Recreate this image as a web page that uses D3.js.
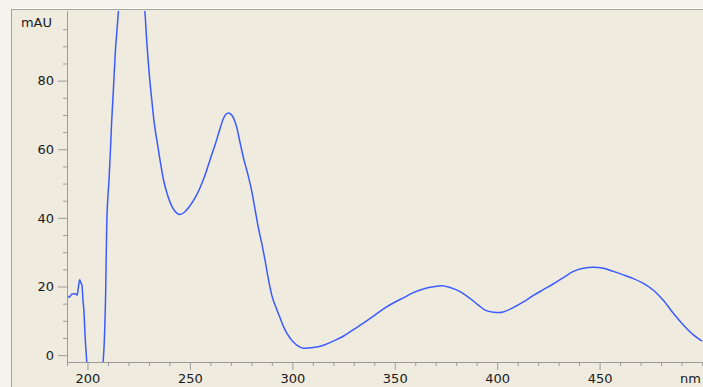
<!DOCTYPE html>
<html>
<head>
<meta charset="utf-8">
<script src="https://cdn.jsdelivr.net/npm/d3@7/dist/d3.min.js"></script>
<style>
  html, body { margin: 0; padding: 0; background: #f5f3ec; overflow: hidden; }
  svg { display: block; }
  text { font-family: "DejaVu Sans", Verdana, sans-serif; font-size: 13px; fill: #1a1a1a; }
</style>
</head>
<body>
<svg id="chart" width="703" height="387"></svg>
<script>
// UV-Vis absorbance spectrum (wavelength in nm, absorbance in mAU)
const wavelength = [
  190, 191, 192.5, 194, 195, 195.5, 196.2, 196.8, 197.3, 197.8, 198.3, 198.8, 199.3, 199.8, 200.3,
  202, 205, 207.5, 208.2, 208.9, 209.4, 210.5, 211.1, 211.8, 212.6, 213.6, 214.6, 215.2, 217,
  221, 225, 227.5, 228.1, 228.9, 230.2, 231.4, 232.6, 234.1, 235.4, 237, 239, 240.3, 241.9,
  243.6, 245.2, 247.6, 250.1, 252.5, 254.9, 257.4, 259.8, 262.3, 264.7, 266.3, 268.8, 270.4,
  272.9, 274.5, 276.4, 278.5, 280.2, 281.8, 283.4, 285.1, 286.7, 288.3, 290, 292.4, 294,
  295.5, 297.3, 299, 300.5, 302.5, 305.4, 310.3, 315.2, 320, 324.9, 329.8, 334.7, 339.6,
  344.5, 349.3, 354.2, 359.1, 364, 368.9, 373, 377, 381.9, 386.8, 390.8, 394.1, 398.2,
  401.4, 403.1, 408, 412.8, 417.7, 422.6, 427.5, 432.3, 437.2, 442.1, 447, 451.9, 456.7,
  461.6, 466.5, 471.4, 476.3, 481.1, 486, 490.9, 495.8, 500
];
const absorbance = [
  17.5, 16.9, 17.8, 17.9, 17.5, 19.5, 22.0, 21.0, 20.4, 16.0, 12.6, 6.0, 1.0, -3, -8,
  -15, -15, -3, 3.9, 19.0, 37.9, 51.0, 58.3, 68.0, 76.8, 88.4, 96.2, 101, 112,
  120, 112, 103, 99.5, 91.8, 81.6, 74.3, 67.6, 61.8, 56.9, 51.4, 46.8, 44.6, 42.6,
  41.4, 41.0, 41.8, 43.6, 45.8, 48.7, 52.5, 56.9, 61.3, 66.0, 68.9, 70.6, 70.0,
  66.3, 61.9, 56.9, 52.2, 47.8, 42.5, 37.2, 32.5, 27.6, 22.2, 17.4, 13.3, 10.9,
  8.6, 6.4, 4.9, 3.8, 2.8, 2.0, 2.2, 2.9, 4.1, 5.5, 7.4, 9.3, 11.4,
  13.5, 15.2, 16.7, 18.2, 19.3, 19.9, 20.2, 19.7, 18.5, 16.5, 14.6, 13.1, 12.5,
  12.4, 12.6, 13.9, 15.5, 17.4, 19.1, 20.8, 22.6, 24.4, 25.3, 25.6, 25.3, 24.4,
  23.4, 22.3, 20.9, 18.9, 16.0, 12.2, 8.8, 5.9, 4.1
];

const xMajorTicks = [200, 250, 300, 350, 400, 450];
const xMinorTicks = d3.range(190, 501, 10);
const yMajorTicks = [0, 20, 40, 60, 80];
const yMinorTicks = d3.range(0, 100, 5);
const xUnit = "nm";
const yUnit = "mAU";

const svg = d3.select("#chart");
const W = 703, H = 387;
const plotLeft = 67, plotRight = 702, plotTop = 12, plotBottom = 362;

const x = d3.scaleLinear().domain([190, 500]).range([plotLeft, plotRight]);
const y = d3.scaleLinear().domain([-2, 100]).range([plotBottom, plotTop]);

// Panel frame (continues past the right and bottom edges)
svg.append("rect").attr("x", 11).attr("y", 9).attr("width", W + 20).attr("height", H + 20)
  .attr("fill", "#efebdf");
svg.append("line").attr("x1", 11).attr("x2", W + 20).attr("y1", 9.5).attr("y2", 9.5)
  .attr("stroke", "#a3a29b");
svg.append("line").attr("x1", 11.5).attr("x2", 11.5).attr("y1", 9).attr("y2", H + 20)
  .attr("stroke", "#a3a29b");
svg.append("line").attr("x1", 12).attr("x2", W + 20).attr("y1", 8.5).attr("y2", 8.5)
  .attr("stroke", "#ffffff").attr("stroke-opacity", 0.7);

const axisColor = "#9c9c9c";

// Y axis: minor ticks every 5 mAU, labelled major ticks every 20
const yMinorG = svg.append("g").attr("transform", `translate(${plotLeft},0)`)
  .call(d3.axisLeft(y).tickValues(yMinorTicks.filter(v => !yMajorTicks.includes(v))).tickSize(4).tickFormat(""));
const yMajorG = svg.append("g").attr("transform", `translate(${plotLeft},0)`)
  .call(d3.axisLeft(y).tickValues(yMajorTicks).tickSize(9).tickPadding(4));
[yMinorG, yMajorG].forEach(g => {
  g.selectAll(".domain").remove();
  g.selectAll(".tick line").attr("stroke", axisColor);
  g.selectAll(".tick text").attr("font-family", "DejaVu Sans").attr("font-size", 13).attr("fill", "#1a1a1a");
});
svg.append("line").attr("x1", plotLeft + 0.5).attr("x2", plotLeft + 0.5).attr("y1", plotTop - 1).attr("y2", plotBottom)
  .attr("stroke", axisColor);

// X axis: minor ticks every 10 nm, labelled major ticks every 50
const xMinorG = svg.append("g").attr("transform", `translate(0,${plotBottom})`)
  .call(d3.axisBottom(x).tickValues(xMinorTicks.filter(v => !xMajorTicks.includes(v))).tickSize(4).tickFormat(""));
const xMajorG = svg.append("g").attr("transform", `translate(0,${plotBottom})`)
  .call(d3.axisBottom(x).tickValues(xMajorTicks).tickSize(8).tickPadding(4));
[xMinorG, xMajorG].forEach(g => {
  g.selectAll(".domain").remove();
  g.selectAll(".tick line").attr("stroke", axisColor);
  g.selectAll(".tick text").attr("font-family", "DejaVu Sans").attr("font-size", 13).attr("fill", "#1a1a1a");
});
svg.append("line").attr("x1", plotLeft).attr("x2", W).attr("y1", plotBottom + 0.5).attr("y2", plotBottom + 0.5)
  .attr("stroke", axisColor);

// Unit labels
svg.append("text").attr("x", 52).attr("y", 27).attr("text-anchor", "end").text(yUnit);
svg.append("text").attr("x", 701).attr("y", plotBottom + 12).attr("dy", "0.71em")
  .attr("text-anchor", "end").text(xUnit);

// Spectrum trace, clipped to the plotting area
svg.append("clipPath").attr("id", "plot-clip")
  .append("rect").attr("x", plotLeft + 1).attr("y", plotTop - 1)
  .attr("width", W - plotLeft).attr("height", plotBottom - plotTop + 1);

const points = wavelength.map((w, i) => [w, absorbance[i]]);
const line = d3.line().x(d => x(d[0])).y(d => y(d[1])).curve(d3.curveMonotoneX);
svg.append("path")
  .attr("clip-path", "url(#plot-clip)")
  .attr("d", line(points))
  .attr("fill", "none")
  .attr("stroke", "#3b5bff")
  .attr("stroke-width", 1.5);
</script>
</body>
</html>
